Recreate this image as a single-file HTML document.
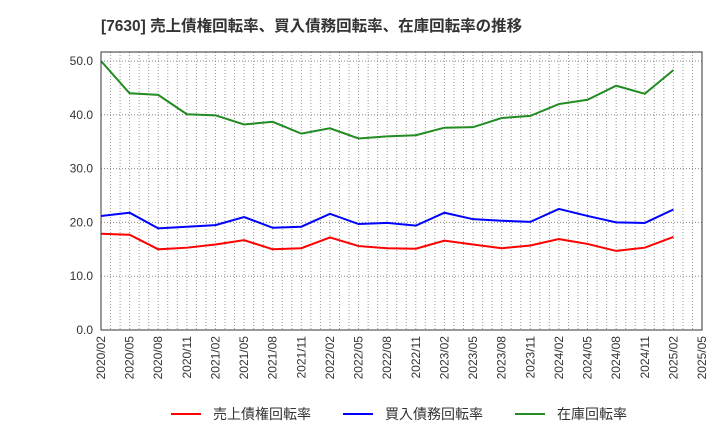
<!DOCTYPE html>
<html><head><meta charset="utf-8"><style>
body{margin:0;background:#fff;font-family:"Liberation Sans","Noto Sans CJK JP",sans-serif;}
</style></head><body>
<svg width="720" height="440" xmlns="http://www.w3.org/2000/svg">
<text x="101" y="31" font-size="15.5" font-weight="bold" fill="#333" font-family="Liberation Sans, Noto Sans CJK JP, sans-serif">[7630]  売上債権回転率、買入債務回転率、在庫回転率の推移</text>
<g id="grid"></g><g id="axes"></g><g id="series"></g>
<rect x="101" y="52" width="601" height="278" fill="none" stroke="#333" stroke-width="1"/>
<g id="legend"></g>
</svg>
<script>
const xLabels=["2020/02","2020/05","2020/08","2020/11","2021/02","2021/05","2021/08","2021/11","2022/02","2022/05","2022/08","2022/11","2023/02","2023/05","2023/08","2023/11","2024/02","2024/05","2024/08","2024/11","2025/02","2025/05"];
const yTicks=[0,10,20,30,40,50];
const receivables=[17.9,17.7,15.0,15.3,15.9,16.7,15.0,15.2,17.2,15.6,15.2,15.1,16.6,15.9,15.2,15.7,16.9,16.0,14.7,15.3,17.3];
const payables=[21.2,21.8,18.9,19.2,19.5,21.0,19.0,19.2,21.6,19.7,19.9,19.4,21.8,20.6,20.3,20.1,22.5,21.2,20.0,19.9,22.4];
const inventory=[50.0,44.0,43.7,40.1,39.9,38.2,38.7,36.5,37.5,35.6,36.0,36.2,37.6,37.7,39.4,39.8,42.0,42.8,45.4,43.9,48.3];
const NS="http://www.w3.org/2000/svg";
const x0=101,x1=702,yb=330,yt=52;
const step=(x1-x0)/(xLabels.length-1);
const X=i=>x0+i*step;
const Y=v=>yb-v*(330-61)/50;
function mk(t,a,p){const e=document.createElementNS(NS,t);for(const k in a)e.setAttribute(k,a[k]);p.appendChild(e);return e;}
const grid=document.getElementById('grid'),axes=document.getElementById('axes'),ser=document.getElementById('series'),leg=document.getElementById('legend');
for(let m=1;m<(xLabels.length-1)*3;m++){const x=x0+m*step/3;
const l=mk('line',{x1:x,x2:x,y1:yt,y2:yb,stroke:'#999','stroke-dasharray':'1,2','stroke-width':1},grid);

}
yTicks.forEach(v=>{const y=Y(v);
if(v>0){const g=mk('line',{x1:x0,x2:x1,y1:y,y2:y,stroke:'#888','stroke-dasharray':'1,2','stroke-width':1},grid);

}
const t=mk('text',{x:x0-8,y:y+4,'text-anchor':'end','font-size':12,fill:'#333'},axes);t.textContent=v.toFixed(1);

});
xLabels.forEach((s,i)=>{const x=X(i);
const t=mk('text',{x:x+4,y:yb+6,'text-anchor':'end','font-size':12,fill:'#333',transform:`rotate(-90 ${x+4} ${yb+6})`},axes);t.textContent=s;

});
[[receivables,'#ff0000','receivables-turnover-line'],[payables,'#0000ff','payables-turnover-line'],[inventory,'#228b22','inventory-turnover-line']].forEach(([d,c,n])=>{
const p=mk('polyline',{points:d.map((v,i)=>X(i)+','+Y(v)).join(' '),fill:'none',stroke:c,'stroke-width':2},ser);

});
[['売上債権回転率','#ff0000',171],['買入債務回転率','#0000ff',343],['在庫回転率','#228b22',515]].forEach(([s,c,x])=>{
const g=mk('g',{},leg);


mk('line',{x1:x,x2:x+30,y1:414,y2:414,stroke:c,'stroke-width':2},g);
const t=mk('text',{x:x+42,y:419,'font-size':14,fill:'#333'},g);t.textContent=s;});
</script>
</body></html>
